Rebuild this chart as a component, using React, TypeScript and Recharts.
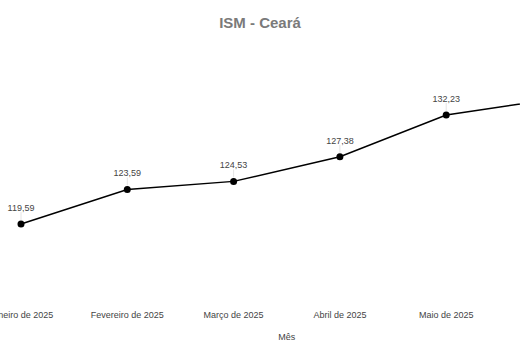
import React from "react";
import { LineChart, Line, XAxis, YAxis, LabelList } from "recharts";

const meses = [
  "Janeiro de 2025",
  "Fevereiro de 2025",
  "Março de 2025",
  "Abril de 2025",
  "Maio de 2025",
  "Junho de 2025",
];
const ism = [119.59, 123.59, 124.53, 127.38, 132.23, 134.08];

const dados = meses.map((mes, i) => ({ mes, ism: ism[i] }));

const fmt = (v: any) => Number(v).toFixed(2).replace(".", ",");

const Rotulo = (props: any) => {
  const { x, y, value } = props;
  return (
    <g>
      <line x1={x} x2={x} y1={y - 4} y2={y - 12} stroke="#e4e4e4" strokeWidth={1} />
      <text x={x} y={y - 13} textAnchor="middle" fontSize={9} fill="#444">
        {fmt(value)}
      </text>
    </g>
  );
};

export default function App() {
  return (
    <div
      style={{
        position: "absolute",
        left: 0,
        top: 0,
        width: 520,
        height: 360,
        overflow: "hidden",
        background: "#fff",
        fontFamily: "'Liberation Sans', Arial, sans-serif",
      }}
    >
      <div
        style={{
          position: "absolute",
          top: 14,
          left: 0,
          width: 520,
          textAlign: "center",
          fontSize: 15,
          fontWeight: "bold",
          color: "#7a7a7a",
        }}
      >
        ISM - Ceará
      </div>
      <div style={{ position: "absolute", left: -40, top: 0 }}>
        <LineChart
          width={640}
          height={360}
          data={dados}
          margin={{ top: 60, right: 47.5, bottom: 20, left: 61 }}
        >
          <XAxis
            dataKey="mes"
            height={40}
            axisLine={false}
            tickLine={false}
            tickMargin={6}
            padding={{ left: 0, right: 0 }}
            interval={0}
            tick={{ fontSize: 9, fill: "#444" }}
            label={{ value: "Mês", position: "insideBottom", offset: 0, fontSize: 9, fill: "#444" }}
          />
          <YAxis hide domain={[110.77, 138.61]} />
          <Line
            type="linear"
            dataKey="ism"
            stroke="#000"
            strokeWidth={1.5}
            dot={{ r: 3.5, fill: "#000", stroke: "#000", strokeWidth: 0 }}
            isAnimationActive={false}
          >
            <LabelList dataKey="ism" content={<Rotulo />} />
          </Line>
        </LineChart>
      </div>
    </div>
  );
}
